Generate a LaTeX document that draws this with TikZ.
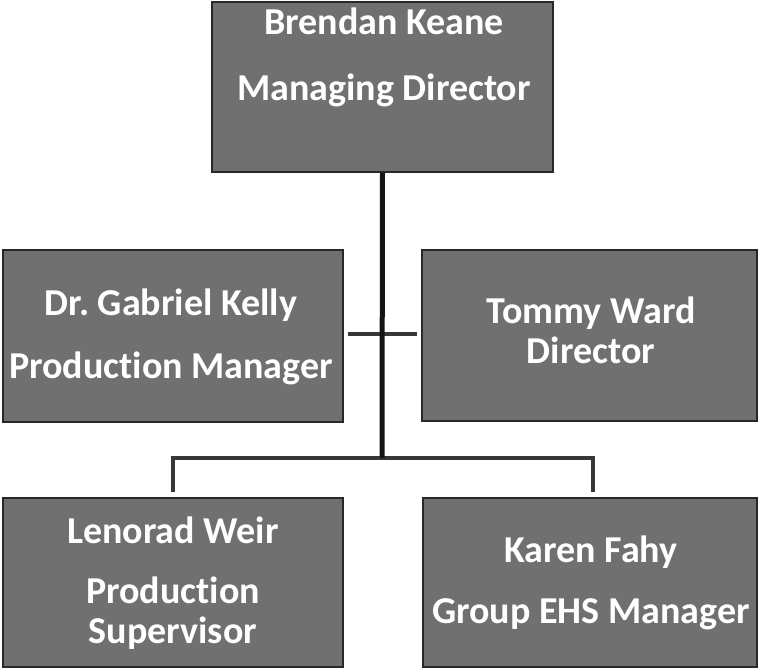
\documentclass[tikz,border=0pt]{standalone}
\usepackage{fontspec}
\setmainfont{Carlito}[Ligatures=NoCommon]
\frenchspacing
\definecolor{boxfill}{RGB}{112,112,112}
\definecolor{boxline}{RGB}{40,40,40}
\definecolor{linkdark}{RGB}{20,20,20}
\tikzset{
  orgbox/.style={draw=boxline, line width=1.2pt, fill=boxfill, rectangle, inner sep=0pt},
  lbl/.style={anchor=base, text=white, inner sep=0pt, font=\bfseries\fontsize{38}{40}\selectfont},
  stem/.style={draw=linkdark, line width=5pt},
  thinlink/.style={draw=linkdark!85!white, line width=3.5pt}
}
\begin{document}
\begin{tikzpicture}[x=1pt,y=-1pt]
\useasboundingbox (0,0) rectangle (761,669);
% boxes
\node[orgbox, minimum width=341pt, minimum height=170pt] (bk) at (382.5,87) {};
\node[orgbox, minimum width=340pt, minimum height=172pt] (gk) at (173,336) {};
\node[orgbox, minimum width=335pt, minimum height=171pt] (tw) at (589.5,335.5) {};
\node[orgbox, minimum width=340pt, minimum height=169pt] (lw) at (173,582.5) {};
\node[orgbox, minimum width=334pt, minimum height=169pt] (kf) at (590,582.5) {};
% texts
\node[lbl] (bk1) at (384,35) {Brendan Keane};
\node[lbl] (bk2) at (384,100) {Managing Director};
\node[lbl] (gk1) at (171,315) {Dr.\ Gabriel Kelly};
\node[lbl] (gk2) at (171,378) {Production Manager};
\node[lbl] (tw1) at (591,323) {Tommy Ward};
\node[lbl] (tw2) at (591,363) {Director};
\node[lbl] (lw1) at (173,543) {Lenorad Weir};
\node[lbl] (lw2) at (173,603) {Production};
\node[lbl] (lw3) at (173,643) {Supervisor};
\node[lbl] (kf1) at (591,562) {Karen Fahy};
\node[lbl] (kf2) at (591,623) {Group EHS Manager};
% connector points
\coordinate (junc) at (382,458);
\coordinate (lwtop) at (173,492);
\coordinate (kftop) at (593,492);
\coordinate (gkr) at (348,334);
\coordinate (twl) at (417,334);
% connectors
\draw[thinlink] (gkr) -- (twl);
\draw[thinlink] (lwtop) |- (junc) -| (kftop);
\draw[stem] (bk.south) -- (junc);
\end{tikzpicture}
\end{document}
